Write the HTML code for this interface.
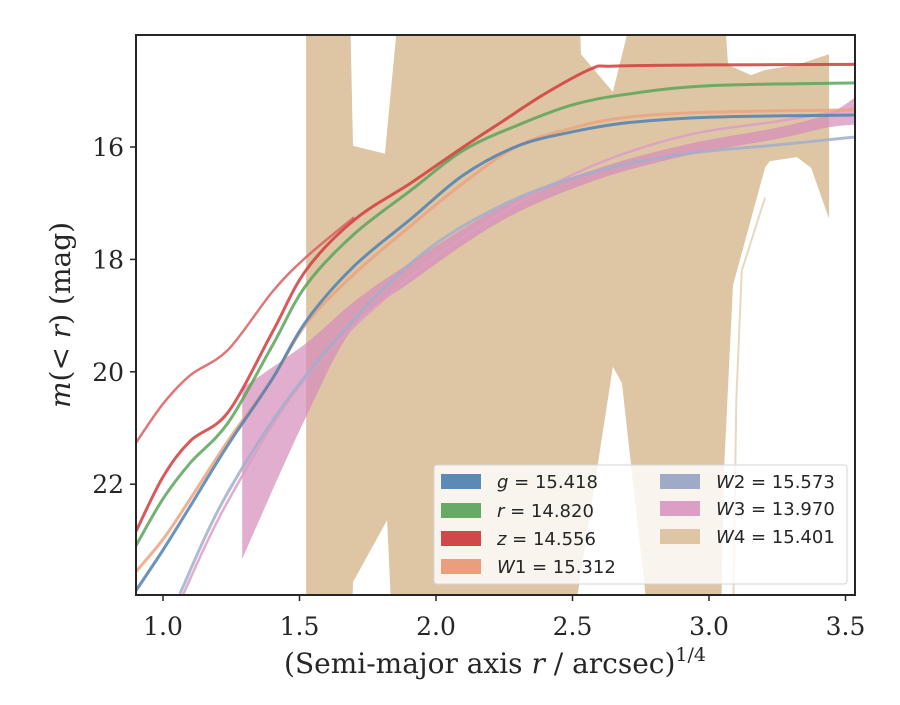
<!DOCTYPE html>
<html><head><meta charset="utf-8"><style>
body{margin:0;background:#fff}
</style></head><body>
<svg id="c" width="900" height="700" xmlns="http://www.w3.org/2000/svg">
<defs><clipPath id="clip"><rect x="136" y="35" width="719" height="560"/></clipPath></defs>
<g id="plot" clip-path="url(#clip)"></g>
<g id="axes"></g>
</svg>
<script>
const xTicks=[1.0,1.5,2.0,2.5,3.0,3.5];
const yTicks=[16,18,20,22];
const w4TopX=[1.524,1.685,1.696,1.813,1.864,2.524,2.531,2.648,2.725,3.055,3.070,3.154,3.205,3.322,3.407,3.440];
const w4TopMag=[13.5,13.5,15.98,16.12,13.5,13.5,14.35,15.02,13.5,13.5,14.54,14.72,14.63,14.54,14.40,14.35];
const w4BotX=[1.524,1.692,1.696,1.821,1.839,2.502,2.648,2.681,2.780,3.044,3.055,3.088,3.205,3.223,3.322,3.374,3.440];
const w4BotMag=[24.5,24.5,23.74,22.64,24.5,24.5,19.91,20.20,24.5,24.5,21.75,18.46,16.37,16.25,16.18,16.37,17.28];
const w3BandX=[1.29,1.524,1.7,1.908,2.245,2.58,2.92,3.256,3.44,3.54];
const w3BandUp=[20.29,19.49,18.75,18.05,17.05,16.4,15.95,15.65,15.4,15.1];
const w3BandLo=[23.33,20.8,19.2,18.4,17.3,16.6,16.15,15.85,15.65,15.6];
const curveX=[0.90,1.0,1.1,1.238,1.4,1.524,1.7,1.908,2.1,2.3,2.5,2.7,3.0,3.54];
const gMag=[23.9,23.17,22.39,21.3,20.13,19.1,18.12,17.28,16.5,15.98,15.73,15.57,15.47,15.43];
const rMag=[23.1,22.26,21.62,20.91,19.54,18.46,17.55,16.77,16.06,15.61,15.25,15.06,14.91,14.86];
const w1Mag=[23.56,22.98,22.26,21.23,20.13,19.15,18.26,17.4,16.64,15.98,15.66,15.47,15.38,15.34];
const zX=[0.90,1.0,1.1,1.238,1.4,1.524,1.7,1.908,2.1,2.245,2.4,2.568,2.648,3.0,3.54];
const zMag=[22.85,21.87,21.23,20.72,19.3,18.19,17.3,16.64,16.0,15.54,15.05,14.61,14.56,14.54,14.53];
const zModelX=[0.90,1.0,1.1,1.238,1.4,1.524,1.7];
const zModelMag=[21.27,20.57,20.06,19.61,18.58,17.96,17.25];
const w2X=[1.062,1.238,1.524,1.908,2.245,2.582,2.92,3.256,3.54];
const w2Mag=[23.95,22.14,20.06,18.07,17.03,16.44,16.12,15.96,15.82];
const w3X=[1.07,1.238,1.524,1.908,2.245,2.58,2.92,3.256,3.54];
const w3Mag=[24.0,22.3,20.1,18.3,17.16,16.32,15.79,15.54,15.31];
const w4LineX=[3.088,3.10,3.12,3.205];
const w4LineMag=[24.5,20.5,18.2,16.9];

const X=v=>163+(v-1.0)*273;
const Y=m=>147+(m-16)*56.2;
const NS='http://www.w3.org/2000/svg';
const plot=document.getElementById('plot'),axes=document.getElementById('axes');
function mk(tag,attrs,parent){const e=document.createElementNS(NS,tag);for(const k in attrs)e.setAttribute(k,attrs[k]);parent.appendChild(e);return e;}
function pts(xs,ms){return xs.map((x,i)=>X(x).toFixed(1)+','+Y(ms[i]).toFixed(1));}
function smooth(xs,ms,start){
 const P=xs.map((x,i)=>[X(x),Y(ms[i])]);
 let d=(start||'M')+P[0][0].toFixed(1)+','+P[0][1].toFixed(1);
 for(let i=0;i<P.length-1;i++){
  const p0=P[Math.max(i-1,0)],p1=P[i],p2=P[i+1],p3=P[Math.min(i+2,P.length-1)];
  const c1=[p1[0]+(p2[0]-p0[0])/6,p1[1]+(p2[1]-p0[1])/6];
  const c2=[p2[0]-(p3[0]-p1[0])/6,p2[1]-(p3[1]-p1[1])/6];
  d+=' C'+c1.map(v=>v.toFixed(1)).join(',')+' '+c2.map(v=>v.toFixed(1)).join(',')+' '+p2[0].toFixed(1)+','+p2[1].toFixed(1);
 }
 return d;
}

let p=mk('polygon',{points:pts(w4TopX,w4TopMag).concat(pts(w4BotX,w4BotMag).reverse()).join(' '),fill:'#dec6a5'},plot);


p=mk('polyline',{points:pts(w4LineX,w4LineMag).join(' '),fill:'none',stroke:'#e8d8c2',"stroke-width":2},plot);


const revX=w3BandX.slice().reverse(),revLo=w3BandLo.slice().reverse();
p=mk('path',{d:smooth(w3BandX,w3BandUp)+' '+smooth(revX,revLo,'L')+' Z',fill:'#d58cbb',"fill-opacity":0.7},plot);



const lines=[[w3X,w3Mag,'#dc9ec4','w3-line',2.5],[w2X,w2Mag,'#a3aecb','w2-line',3],[curveX,w1Mag,'#eda27f','w1-line',3],[curveX,gMag,'#4f81b0','g-line',3],[curveX,rMag,'#5aa45a','r-line',3],[zModelX,zModelMag,'#d86060','z-model-line',2.5],[zX,zMag,'#d23c3c','z-line',3]];
lines.forEach(l=>{
 const e=mk('path',{d:smooth(l[0],l[1]),fill:'none',stroke:l[2],"stroke-width":l[4],"stroke-opacity":0.85,"stroke-linejoin":"round"},plot);
 
 
});

xTicks.forEach(t=>{
 const x=X(t);
 let e=mk('line',{x1:x,x2:x,y1:595,y2:601,stroke:'#262626',"stroke-width":1.5},axes);
 
 
 e=mk('text',{x:x,y:635,"font-size":25,"text-anchor":"middle","font-family":"DejaVu Serif, Liberation Serif, serif",fill:'#262626'},axes);e.textContent=t.toFixed(1);
 
 
});
yTicks.forEach(t=>{
 const y=Y(t);
 let e=mk('line',{x1:130,x2:136,y1:y,y2:y,stroke:'#262626',"stroke-width":1.5},axes);
 
 
 e=mk('text',{x:124,y:y+9,"font-size":25,"text-anchor":"end","font-family":"DejaVu Serif, Liberation Serif, serif",fill:'#262626'},axes);e.textContent=t;
 
 
});
</script>
<svg width="900" height="700" style="position:absolute;left:0;top:0" xmlns="http://www.w3.org/2000/svg">
<rect x="136" y="35" width="719" height="560" fill="none" stroke="#262626" stroke-width="2"/>
<text x="495" y="673" font-size="28" text-anchor="middle" font-family="DejaVu Serif, Liberation Serif, serif" fill="#262626">(Semi-major axis <tspan font-style="italic">r</tspan> / arcsec)<tspan font-size="19" dy="-12">1/4</tspan></text>
<text transform="translate(70,315) rotate(-90)" font-size="28" text-anchor="middle" font-family="DejaVu Serif, Liberation Serif, serif" fill="#262626"><tspan font-style="italic">m</tspan>(&lt; <tspan font-style="italic">r</tspan>) (mag)</text>
<g font-family="DejaVu Sans, Liberation Sans, sans-serif" font-size="18" fill="#262626">
<rect x="434" y="465" width="413" height="119" rx="3" fill="#fff" fill-opacity="0.8" stroke="#d6d6d6"/>
<g><rect x="441" y="474" width="40" height="15" fill="#5a8ab5"/><text x="497" y="488"><tspan font-style="italic">g</tspan> = 15.418</text></g>
<g><rect x="441" y="503" width="40" height="15" fill="#67aa65"/><text x="497" y="517"><tspan font-style="italic">r</tspan> = 14.820</text></g>
<g><rect x="441" y="531" width="40" height="15" fill="#d04848"/><text x="497" y="545"><tspan font-style="italic">z</tspan> = 14.556</text></g>
<g><rect x="441" y="559" width="40" height="15" fill="#eb9e7e"/><text x="497" y="573"><tspan font-style="italic">W</tspan>1 = 15.312</text></g>
<g><rect x="660" y="474" width="40" height="15" fill="#9eaac8"/><text x="716" y="488"><tspan font-style="italic">W</tspan>2 = 15.573</text></g>
<g><rect x="660" y="501" width="40" height="15" fill="#dc9ec4"/><text x="716" y="515"><tspan font-style="italic">W</tspan>3 = 13.970</text></g>
<g><rect x="660" y="529" width="40" height="15" fill="#dec6a5"/><text x="716" y="543"><tspan font-style="italic">W</tspan>4 = 15.401</text></g>
</g>
</svg>
</body></html>
